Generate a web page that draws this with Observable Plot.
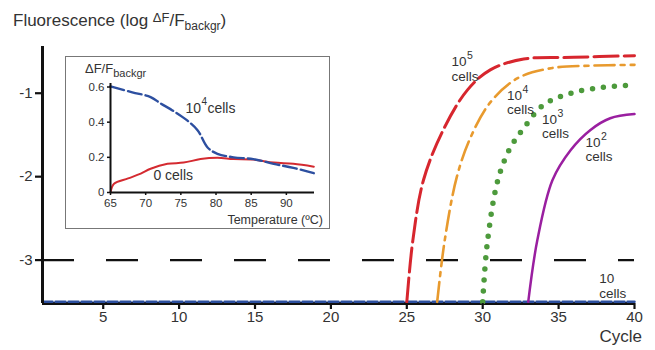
<!DOCTYPE html>
<html><head><meta charset="utf-8">
<script src="https://cdn.jsdelivr.net/npm/d3@7"></script>
<script src="https://cdn.jsdelivr.net/npm/@observablehq/plot@0.6"></script>
<style>
body{margin:0;background:#fff;font-family:"Liberation Sans",Arial,sans-serif;}
#wrap{position:relative;width:655px;height:350px;overflow:hidden;}
#main{position:absolute;left:0;top:0;}
#inset{position:absolute;left:65px;top:56px;width:263px;height:171px;border:1px solid #777;background:#fff;}
#inset svg{position:absolute;left:0;top:0;}
.t{position:absolute;color:#333;white-space:nowrap;line-height:20px;}
sub,sup{line-height:0;}
</style></head><body><div id="wrap"><div id="main"></div><div id="inset"></div>
<div class="t" style="left:13px;top:11px;font-size:17px;">Fluorescence (log <span style="font-size:13px;position:relative;top:-4px;">&#916;F</span>/F<sub style="font-size:12px;">backgr</sub>)</div>
<div class="t" style="right:13px;top:327px;font-size:17px;">Cycle</div>
</div>
<script>
// Main chart: log fluorescence vs cycle
const xTicks = [5, 10, 15, 20, 25, 30, 35, 40];
const yTicks = [-1, -2, -3];
const threshold = -3;
const baseline = -3.5;

const c1e5 = [25, 25.4, 26.1, 27.4, 29.0, 30.5, 32.7, 36.0, 40];
const v1e5 = [-3.5, -2.76, -2.04, -1.44, -0.96, -0.72, -0.59, -0.57, -0.55];
const c1e4 = [27, 27.5, 28.3, 29.2, 30.5, 32.3, 34.5, 37.0, 40];
const v1e4 = [-3.5, -2.76, -2.0, -1.53, -1.11, -0.82, -0.70, -0.67, -0.66];
const c1e3 = [30, 30.3, 31.0, 31.8, 32.7, 34.0, 35.8, 37.9, 40];
const v1e3 = [-3.5, -2.8, -2.04, -1.66, -1.42, -1.14, -1.0, -0.93, -0.90];
const c1e2 = [33, 33.6, 34.6, 35.8, 37.1, 38.4, 40];
const v1e2 = [-3.5, -2.76, -2.04, -1.68, -1.44, -1.30, -1.25];
const c10 = [1, 40];
const v10 = [baseline, baseline];

const labelCycle = [27.95, 31.6, 33.91, 36.77, 37.68];
const labelValue = [-0.707, -1.108, -1.399, -1.671, -3.305];
const labelExp = ["5", "4", "3", "2", ""];

// Inset: melting curves
const tTicks = [65, 70, 75, 80, 85, 90];
const fTicks = [0, 0.2, 0.4, 0.6];
const tBlue = [65, 68.1, 70.7, 72.1, 73.8, 75.9, 77.4, 78.8, 80.2, 82.5, 85.3, 88.2, 91, 93.9];
const fBlue = [0.604, 0.57, 0.543, 0.507, 0.467, 0.41, 0.353, 0.256, 0.22, 0.2, 0.19, 0.163, 0.14, 0.11];
const tRed = [65, 65.5, 67.5, 69.3, 70.7, 73.1, 75.4, 77.8, 80.2, 82.5, 85.3, 88.2, 91, 93.9];
const fRed = [0, 0.05, 0.08, 0.107, 0.135, 0.163, 0.17, 0.19, 0.197, 0.19, 0.187, 0.17, 0.163, 0.147];
const insetLabelT = [75.65, 71.1];
const insetLabelF = [0.476, 0.095];
const insetLabelText = ["10", "0 cells"];

const zip = (xs, ys) => xs.map((x, i) => ({x, y: ys[i]}));
const labels = labelCycle.map((c, i) => ({x: c, y: labelValue[i], exp: labelExp[i]}));
const font = "Liberation Sans, Arial, sans-serif";

const main = Plot.plot({
  width: 655, height: 350,
  marginLeft: 42, marginRight: 21, marginTop: 46, marginBottom: 47,
  x: {domain: [1, 40]},
  y: {domain: [-3.52, -0.44]},
  style: {fontFamily: font, color: "#333", background: "transparent", overflow: "visible"},
  marks: [
    Plot.ruleY([threshold], {stroke: "#111", strokeWidth: 2.2, strokeDasharray: "32,32"}),
    Plot.ruleY([-3.52], {stroke: "#111", strokeWidth: 3}),
    Plot.line(zip(c10, v10), {x: "x", y: "y", stroke: "#2c4f9e", strokeWidth: 2.5, strokeDasharray: "10,3"}),
    Plot.line(zip(c1e5, v1e5), {x: "x", y: "y", curve: "catmull-rom", stroke: "#d7262e", strokeWidth: 3, strokeDasharray: "24,6"}),
    Plot.line(zip(c1e4, v1e4), {x: "x", y: "y", curve: "catmull-rom", stroke: "#e89a2e", strokeWidth: 2.6, strokeDasharray: "20,6,4,6"}),
    Plot.line(zip(c1e3, v1e3), {x: "x", y: "y", curve: "catmull-rom", stroke: "#4d9a3c", strokeWidth: 5.5, strokeDasharray: "0,11", strokeLinecap: "round"}),
    Plot.line(zip(c1e2, v1e2), {x: "x", y: "y", curve: "catmull-rom", stroke: "#9a1fa0", strokeWidth: 2.5}),
    Plot.ruleX([1], {stroke: "#111", strokeWidth: 3}),
    Plot.axisX({ticks: xTicks, tickSize: 6, tickPadding: 2, label: null, fontSize: 15, stroke: "#111", strokeWidth: 2.2}),
    Plot.axisY({ticks: yTicks, tickSize: 7, tickPadding: 3, label: null, fontSize: 15, tickFormat: d => String(d), stroke: "#111", strokeWidth: 2.2}),
    Plot.text(labels, {x: "x", y: "y", text: () => "10\ncells", textAnchor: "start", lineAnchor: "middle", lineHeight: 1.08, fontSize: 13.5, fill: "#333"}),
    Plot.text(labels.filter(d => d.exp), {x: "x", y: "y", text: "exp", textAnchor: "start", dx: 15.5, dy: -13, fontSize: 10.5, fill: "#333"})
  ]
});
document.getElementById("main").appendChild(main);

const insetLabels = insetLabelT.map((t, i) => ({x: t, y: insetLabelF[i], s: insetLabelText[i]}));
const inset = Plot.plot({
  width: 263, height: 171,
  marginLeft: 44, marginRight: 15, marginTop: 26, marginBottom: 36,
  x: {domain: [65, 94]},
  y: {domain: [0, 0.62]},
  style: {fontFamily: font, color: "#333", background: "transparent", overflow: "visible"},
  marks: [
    Plot.line(zip(tRed, fRed), {x: "x", y: "y", curve: "catmull-rom", stroke: "#d42a30", strokeWidth: 2}),
    Plot.line(zip(tBlue, fBlue), {x: "x", y: "y", curve: "catmull-rom", stroke: "#2d4fa0", strokeWidth: 2.4, strokeDasharray: "14,4"}),
    Plot.ruleX([65], {stroke: "#111", strokeWidth: 2}),
    Plot.ruleY([0], {stroke: "#111", strokeWidth: 2}),
    Plot.axisX({ticks: tTicks, tickSize: 3, tickPadding: 3, label: null, fontSize: 11.5, stroke: "#111", strokeWidth: 1.5}),
    Plot.axisY({ticks: fTicks, tickSize: 3, tickPadding: 3, label: null, fontSize: 11.5, tickFormat: d => String(d), stroke: "#111", strokeWidth: 1.5}),
    Plot.text(insetLabels, {x: "x", y: "y", text: "s", textAnchor: "start", fontSize: 14, fill: "#333"}),
    Plot.text(insetLabels.slice(0, 1), {x: "x", y: "y", text: () => "4", textAnchor: "start", dx: 16, dy: -7, fontSize: 10, fill: "#333"}),
    Plot.text(insetLabels.slice(0, 1), {x: "x", y: "y", text: () => "cells", textAnchor: "start", dx: 22, fontSize: 14, fill: "#333"})
  ]
});
const insetDiv = document.getElementById("inset");
insetDiv.appendChild(inset);
const it = document.createElement("div");
it.className = "t";
it.style.cssText = "left:19px;top:2px;font-size:13px;";
it.innerHTML = "&#916;F/F<sub style='font-size:11px;'>backgr</sub>";
insetDiv.appendChild(it);
const tt = document.createElement("div");
tt.className = "t";
tt.style.cssText = "right:6px;top:153px;font-size:12.5px;";
tt.textContent = "Temperature (\u00BAC)";
insetDiv.appendChild(tt);
</script>
</body></html>
